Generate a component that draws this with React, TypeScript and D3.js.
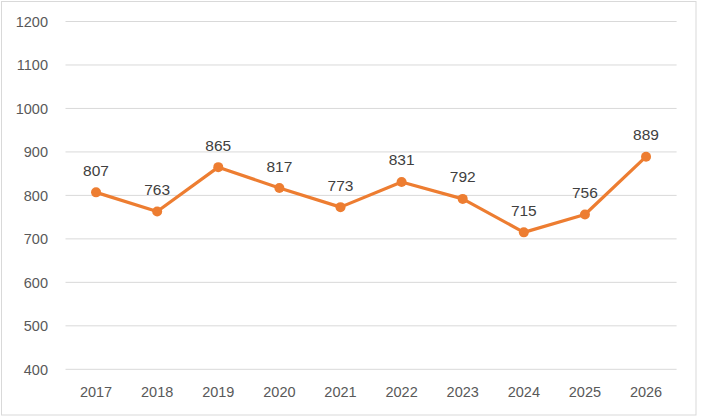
import React from "react";
import * as d3 from "d3";

const years = ["2017","2018","2019","2020","2021","2022","2023","2024","2025","2026"];
const values = [807, 763, 865, 817, 773, 831, 792, 715, 756, 889];
const yTicks = [400, 500, 600, 700, 800, 900, 1000, 1100, 1200];

const W = 701, H = 417;
const plot = { left: 65.5, right: 676.6, top: 21.5, bottom: 369.3 };
const orange = "#ED7D31";
const textColor = "#595959";
const labelColor = "#404040";
const font = "'Liberation Sans', Arial, sans-serif";

export default function App() {
  const x = d3.scaleBand<string>().domain(years).range([plot.left, plot.right]);
  const y = d3.scaleLinear().domain([400, 1200]).range([plot.bottom, plot.top]);
  const cx = (d: string) => (x(d) as number) + x.bandwidth() / 2;
  const line = d3.line<number>().x((_, i) => cx(years[i])).y((v) => y(v));

  return (
    <svg width={W} height={H} style={{ position: "absolute", left: 0, top: 0 }}>
      <rect x={0} y={0} width={W} height={H} fill="#fff" />
      <rect x={1.5} y={1.5} width={694.5} height={413.5} fill="none" stroke="#D9D9D9" strokeWidth={1} />
      {yTicks.map((t) => (
        <g key={t}>
          <line x1={plot.left} x2={plot.right} y1={y(t)} y2={y(t)} stroke="#D9D9D9" strokeWidth={1} />
          <text x={48} y={y(t)} dy="0.36em" textAnchor="end" fontFamily={font} fontSize={14.5} fill={textColor}>{t}</text>
        </g>
      ))}
      {years.map((yr) => (
        <text key={yr} x={cx(yr)} y={397} textAnchor="middle" fontFamily={font} fontSize={14.5} fill={textColor}>{yr}</text>
      ))}
      <path d={line(values) || ""} fill="none" stroke={orange} strokeWidth={3.2} strokeLinejoin="round" />
      {values.map((v, i) => (
        <g key={i}>
          <circle cx={cx(years[i])} cy={y(v)} r={5} fill={orange} />
          <text x={cx(years[i])} y={y(v) - 16.5} textAnchor="middle" fontFamily={font} fontSize={15.5} fill={labelColor}>{v}</text>
        </g>
      ))}
    </svg>
  );
}
